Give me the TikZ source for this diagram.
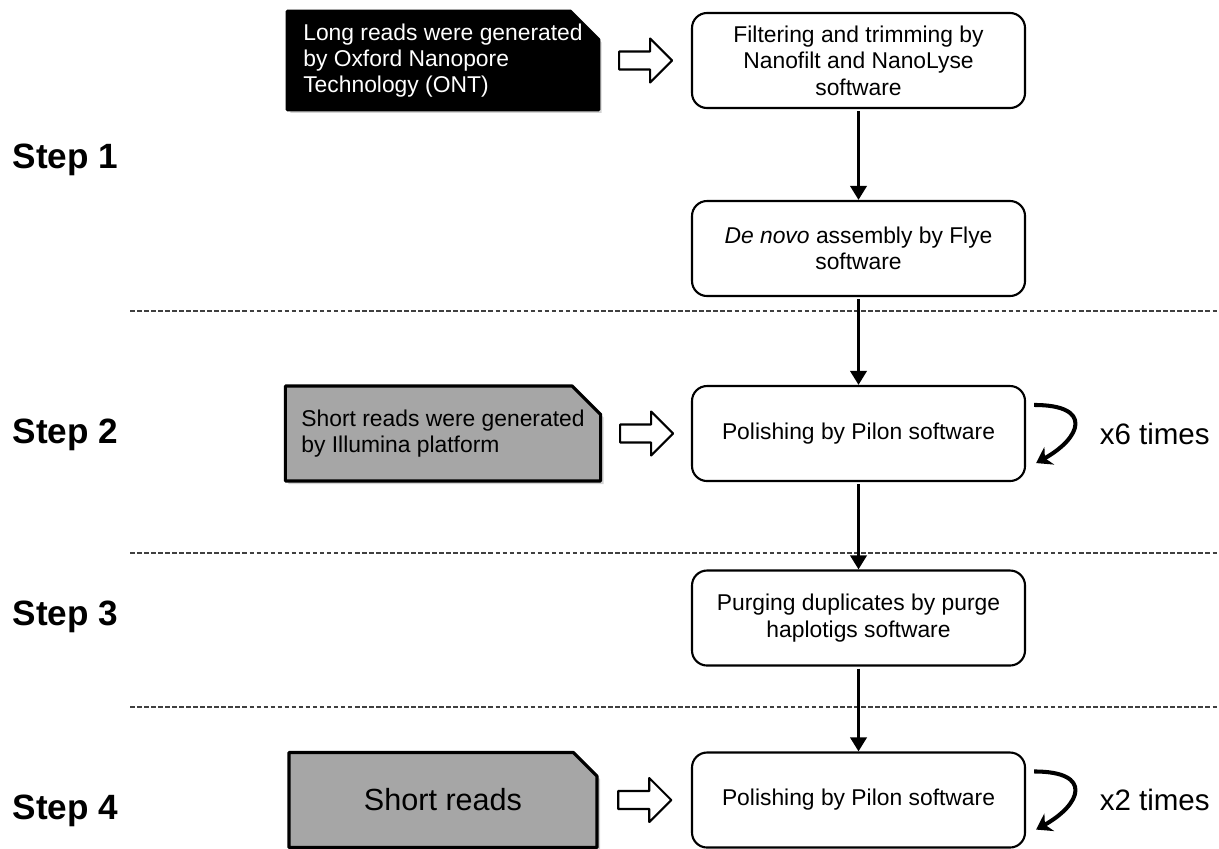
\documentclass[tikz,border=0pt]{standalone}
\usepackage{fontspec}
\setmainfont{Liberation Sans}
\usetikzlibrary{arrows.meta,shapes.misc,shadows,positioning,calc}
\definecolor{cardgray}{RGB}{166,166,166}
\begin{document}
\begin{tikzpicture}[line join=round,
		every node/.style={font=\fontsize{6.5}{7.5}\selectfont},
		stepbox/.style={draw, rounded corners=0.15cm, line width=0.6pt, minimum width=3.33cm, minimum height=0.95cm, align=center, inner sep=0pt},
		card/.style={chamfered rectangle, chamfered rectangle corners=north east, chamfered rectangle xsep=0.16cm, draw, line width=0.9pt, minimum width=3.08cm, minimum height=0.95cm, inner sep=0pt, align=left, drop shadow={shadow xshift=0.03cm, shadow yshift=-0.03cm, opacity=0.35}},
		steplabel/.style={anchor=base west, inner sep=0pt, font=\fontsize{10}{12}\selectfont\bfseries},
		flow/.style={line width=1.1pt, shorten <=0.02cm, -{Triangle[width=0.16cm,length=0.14cm]}},
		sep/.style={dash pattern=on 1.3pt off 0.7pt, line width=0.3pt, gray!50!black},
		loopy/.style={line width=1.15pt, -{Stealth[width=0.2cm,length=0.15cm]}},
		blockarrow/.style={draw, line width=0.6pt, fill=white},
		times/.style={inner sep=0pt, font=\fontsize{8.4}{10}\selectfont}]
		\useasboundingbox (0,0) rectangle (12.19,-8.48);
		% separators
		\draw[sep] (1.30,-3.11) -- (12.19,-3.11);
		\draw[sep] (1.30,-5.53) -- (12.19,-5.53);
		\draw[sep] (1.30,-7.07) -- (12.19,-7.07);
		% step labels
		\node[steplabel] (s1) at (0.12,-1.68) {Step 1};
		\node[steplabel] (s2) at (0.12,-4.43) {Step 2};
		\node[steplabel] (s3) at (0.12,-6.25) {Step 3};
		\node[steplabel] (s4) at (0.12,-8.19) {Step 4};
		% pipeline
		\node[stepbox] (fil) at (8.585,-0.605) {Filtering and trimming by\\Nanofilt and NanoLyse\\software};
		\node[stepbox] (asm) at (8.585,-2.485) {\textit{De novo} assembly by Flye\\software};
		\node[stepbox] (pol1) at (8.585,-4.335) {Polishing by Pilon software};
		\node[stepbox] (prg) at (8.585,-6.18) {Purging duplicates by purge\\haplotigs software};
		\node[stepbox] (pol2) at (8.585,-8.00) {Polishing by Pilon software};
		\draw[flow] (fil) -- (asm);
		\draw[flow] (asm) -- (pol1);
		\draw[flow] (pol1) -- (prg);
		\draw[flow] (prg) -- (pol2);
		% input reads
		\node[card, fill=black, text=white] (long) at (4.43,-0.605) {Long reads were generated\\by Oxford Nanopore\\Technology (ONT)};
		\node[card, fill=cardgray] (short) at (4.43,-4.335) {Short reads were generated\\by Illumina platform};
		\node[card, fill=cardgray, font=\fontsize{8.7}{10}\selectfont] (short2) at (4.43,-8.00) {Short reads};
		\coordinate (in1) at ($(long.east)!0.5!(fil.west)$);
		\coordinate (in2) at ($(short.east)!0.5!(pol1.west)$);
		\coordinate (in3) at ($(short2.east)!0.5!(pol2.west)$);
		\foreach \c in {in1,in2,in3}
			\draw[blockarrow] (\c) ++(-0.265,0.09) -- ++(0.31,0) -- ++(0,0.13) -- ++(0.22,-0.22) -- ++(-0.22,-0.22) -- ++(0,0.13) -- ++(-0.31,0) -- cycle;
		% repeats
		\draw[loopy] ([shift={(0.08,-0.2)}]pol1.north east) .. controls +(0.6,0) and +(0.45,0.25) .. ([shift={(0.1,0.19)}]pol1.south east);
		\node[times, right=0.73cm of pol1] (rep1) {x6 times};
		\draw[loopy] ([shift={(0.08,-0.2)}]pol2.north east) .. controls +(0.6,0) and +(0.45,0.25) .. ([shift={(0.1,0.19)}]pol2.south east);
		\node[times, right=0.73cm of pol2] (rep2) {x2 times};
\end{tikzpicture}
\end{document}
